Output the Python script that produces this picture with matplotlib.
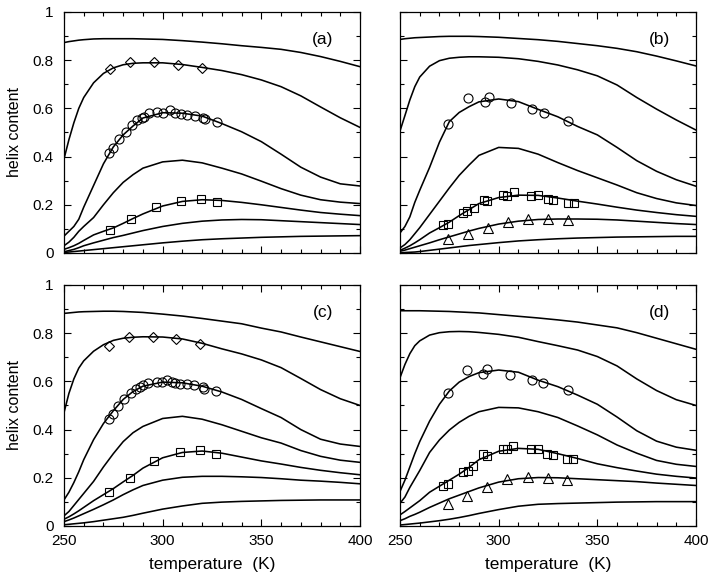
import matplotlib
matplotlib.use("Agg")
import matplotlib.pyplot as plt
from matplotlib.ticker import MultipleLocator, FixedLocator, FixedFormatter

plt.rcParams['font.family'] = ['Liberation Sans', 'DejaVu Sans']

# temperature grid (K) on which the curves were read
T = [250, 252.5, 255, 257.5, 260, 265, 270, 275, 280, 285, 290, 300, 310,
     320, 330, 340, 350, 360, 370, 380, 390, 400]

# ---- panel (a) curves ----
a1 = [.873, .877, .880, .883, .885, .888, .889, .889, .889, .889, .888, .886, .881, .875, .868, .860, .853, .845, .832, .815, .795, .773]
a2 = [.39, .47, .54, .60, .645, .706, .745, .768, .781, .787, .789, .789, .782, .770, .757, .740, .718, .690, .652, .606, .561, .521]
a3 = [.07, .09, .11, .14, .19, .28, .37, .44, .49, .527, .56, .582, .580, .568, .537, .503, .462, .41, .356, .315, .287, .278]
a4 = [.03, .045, .065, .09, .11, .147, .20, .25, .293, .325, .352, .378, .385, .374, .352, .328, .298, .267, .240, .221, .211, .205]
a5 = [.015, .022, .03, .04, .052, .075, .09, .104, .123, .143, .162, .195, .214, .221, .218, .210, .200, .189, .178, .168, .161, .155]
a6 = [.005, .01, .015, .022, .03, .042, .053, .064, .073, .083, .093, .110, .123, .132, .137, .139, .138, .134, .130, .126, .122, .118]
a7 = [.002, .004, .006, .008, .01, .014, .018, .022, .026, .030, .034, .042, .049, .055, .059, .062, .065, .067, .069, .070, .071, .072]

# ---- panel (b) curves ----
b1 = [.886, .889, .891, .893, .894, .896, .898, .899, .899, .899, .898, .895, .890, .885, .878, .869, .860, .849, .835, .817, .797, .776]
b2 = [.506, .57, .635, .69, .73, .775, .798, .808, .812, .814, .814, .812, .806, .795, .780, .760, .735, .697, .645, .597, .552, .51]
b3 = [.083, .11, .15, .21, .26, .355, .46, .545, .583, .607, .627, .639, .628, .596, .565, .525, .49, .438, .383, .339, .304, .277]
b4 = [.021, .035, .055, .08, .105, .16, .215, .27, .322, .365, .405, .438, .434, .41, .375, .342, .312, .282, .25, .226, .208, .197]
b5 = [.011, .02, .03, .042, .055, .083, .105, .128, .155, .18, .205, .23, .24, .239, .228, .215, .203, .19, .178, .168, .159, .152]
b6 = [.007, .012, .018, .024, .03, .042, .055, .067, .079, .091, .102, .12, .132, .139, .141, .141, .14, .137, .132, .127, .122, .118]
b7 = [.0, .002, .003, .004, .006, .011, .016, .021, .026, .031, .035, .043, .05, .055, .059, .062, .064, .066, .067, .068, .069, .069]

# ---- panel (c) curves ----
c1 = [.882, .884, .886, .888, .889, .890, .891, .891, .890, .888, .886, .879, .871, .861, .850, .839, .821, .805, .784, .764, .744, .724]
c2 = [.47, .55, .61, .655, .685, .725, .752, .77, .779, .783, .785, .784, .776, .758, .735, .714, .689, .657, .612, .566, .528, .50]
c3 = [.108, .14, .18, .225, .275, .358, .425, .478, .525, .558, .58, .597, .594, .58, .556, .525, .487, .45, .40, .36, .34, .33]
c4 = [.042, .06, .085, .11, .135, .185, .245, .30, .35, .387, .413, .446, .455, .443, .42, .393, .366, .344, .313, .289, .273, .264]
c5 = [.028, .038, .05, .063, .077, .105, .13, .155, .183, .21, .24, .283, .305, .311, .302, .286, .27, .257, .243, .231, .221, .2125]
c6 = [.018, .025, .033, .042, .051, .069, .088, .108, .13, .15, .168, .19, .202, .206, .206, .204, .201, .196, .19, .186, .181, .175]
c7 = [.005, .007, .009, .011, .013, .018, .024, .03, .036, .044, .053, .07, .083, .094, .099, .102, .104, .106, .107, .108, .108, .108]

# ---- panel (d) curves ----
d1 = [.893, .893, .893, .893, .893, .892, .891, .890, .888, .886, .884, .877, .870, .863, .855, .846, .834, .822, .802, .779, .756, .733]
d2 = [.615, .67, .715, .748, .768, .792, .802, .806, .807, .806, .803, .795, .783, .765, .748, .73, .703, .664, .61, .562, .524, .50]
d3 = [.143, .19, .245, .30, .35, .435, .505, .56, .597, .62, .636, .647, .638, .605, .578, .543, .505, .452, .395, .352, .327, .314]
d4 = [.094, .12, .16, .195, .23, .305, .357, .398, .43, .455, .474, .492, .49, .474, .45, .415, .378, .336, .302, .272, .256, .247]
d5 = [.046, .06, .075, .09, .105, .14, .165, .19, .215, .243, .275, .31, .322, .318, .30, .28, .258, .242, .228, .215, .206, .199]
d6 = [.022, .03, .04, .048, .057, .077, .095, .113, .128, .143, .158, .182, .196, .201, .2, .196, .192, .188, .184, .178, .173, .168]
d7 = [.004, .006, .008, .01, .012, .017, .022, .028, .035, .043, .052, .068, .082, .09, .093, .095, .097, .099, .1, .101, .101, .101]

# ---- experimental points ----
a_dia_T = [273.3, 283.4, 295.8, 307.6, 319.8]
a_dia_v = [.762, .792, .792, .781, .769]
a_cir_T = [273.0, 275.0, 278.0, 281.4, 284.3, 287.2, 289.4, 290.5, 293.2, 297.0, 300.3, 303.7, 306.3, 309.1, 312.5, 316.4, 320.6, 321.5, 327.4]
a_cir_v = [.416, .436, .471, .501, .533, .551, .561, .565, .582, .584, .582, .593, .579, .575, .571, .568, .561, .557, .543]
a_sq_T = [273.3, 284.0, 296.5, 309.3, 319.3, 327.4]
a_sq_v = [.097, .141, .191, .217, .222, .213]

b_cir_T = [274.5, 284.6, 293.1, 295.1, 306.3, 317.1, 323.0, 335.3]
b_cir_v = [.536, .641, .626, .648, .623, .596, .582, .547]
b_sq_T = [272.0, 274.5, 282.1, 284.1, 287.7, 292.6, 294.3, 302.4, 304.4, 307.9, 316.4, 320.1, 324.8, 327.7, 335.0, 338.3]
b_sq_v = [.118, .122, .166, .173, .187, .219, .217, .240, .238, .252, .238, .240, .224, .219, .208, .208]
b_tri_T = [274.5, 284.6, 294.7, 304.9, 315.0, 325.2, 335.3]
b_tri_v = [.060, .080, .104, .128, .139, .139, .136]

c_dia_T = [273.0, 282.9, 294.9, 306.8, 319.1]
c_dia_v = [.747, .785, .785, .775, .757]
c_cir_T = [273.0, 274.7, 277.5, 280.4, 283.8, 286.5, 288.5, 289.9, 292.7, 297.0, 299.5, 302.4, 304.6, 306.3, 308.8, 312.2, 316.0, 320.3, 321.1, 327.0]
c_cir_v = [.442, .463, .497, .528, .553, .569, .578, .583, .594, .597, .597, .606, .597, .592, .588, .588, .583, .578, .569, .560]
c_sq_T = [273.0, 283.4, 295.8, 308.8, 318.9, 326.9]
c_sq_v = [.143, .199, .271, .306, .314, .300]

d_cir_T = [274.5, 284.1, 292.2, 294.3, 305.7, 316.7, 322.6, 335.0]
d_cir_v = [.550, .646, .632, .650, .628, .604, .592, .564]
d_sq_T = [272.0, 274.2, 282.1, 284.3, 287.2, 292.2, 294.3, 302.4, 304.4, 307.4, 316.2, 319.8, 324.7, 327.7, 334.8, 337.8]
d_sq_v = [.167, .175, .226, .229, .250, .299, .292, .321, .319, .331, .319, .319, .299, .294, .278, .278]
d_tri_T = [274.5, 284.1, 294.3, 304.1, 314.7, 324.8, 334.8]
d_tri_v = [.092, .123, .160, .195, .205, .201, .190]

panel_labels = ['(a)', '(b)', '(c)', '(d)']
x_ticks = [250, 300, 350, 400]
y_ticks = [0, 0.2, 0.4, 0.6, 0.8, 1]
y_tick_labels = ['0', '0.2', '0.4', '0.6', '0.8', '1']
x_label = 'temperature  (K)'
y_label = 'helix content'

curves = {
    0: [a1, a2, a3, a4, a5, a6, a7],
    1: [b1, b2, b3, b4, b5, b6, b7],
    2: [c1, c2, c3, c4, c5, c6, c7],
    3: [d1, d2, d3, d4, d5, d6, d7],
}
points = {
    0: [(a_dia_T, a_dia_v, 'D', 5.0), (a_cir_T, a_cir_v, 'o', 6.5), (a_sq_T, a_sq_v, 's', 5.5)],
    1: [(b_cir_T, b_cir_v, 'o', 6.5), (b_sq_T, b_sq_v, 's', 5.5), (b_tri_T, b_tri_v, '^', 6.5)],
    2: [(c_dia_T, c_dia_v, 'D', 5.0), (c_cir_T, c_cir_v, 'o', 6.5), (c_sq_T, c_sq_v, 's', 5.5)],
    3: [(d_cir_T, d_cir_v, 'o', 6.5), (d_sq_T, d_sq_v, 's', 5.5), (d_tri_T, d_tri_v, '^', 6.5)],
}

fig = plt.figure(figsize=(7.14, 5.78), dpi=100)
W, H = 0.4146, 0.417
positions = [
    [0.0896, 0.5623, W, H],
    [0.5602, 0.5623, W, H],
    [0.0896, 0.0900, W, H],
    [0.5602, 0.0900, W, H],
]

for i, pos in enumerate(positions):
    ax = fig.add_axes(pos)
    for cv in curves[i]:
        ax.plot(T, cv, color='black', lw=1.15, solid_capstyle='round')
    for (tx, vy, mk, ms) in points[i]:
        ax.plot(tx, vy, linestyle='none', marker=mk, ms=ms, mfc='none',
                mec='black', mew=0.8, zorder=3)
    ax.set_xlim(250, 400)
    ax.set_ylim(0, 1)
    ax.xaxis.set_major_locator(FixedLocator(x_ticks))
    ax.xaxis.set_minor_locator(MultipleLocator(10))
    ax.yaxis.set_major_locator(FixedLocator(y_ticks))
    ax.yaxis.set_minor_locator(MultipleLocator(0.1))
    ax.tick_params(which='both', direction='in', top=True, right=True,
                   width=0.8, labelsize=11)
    ax.tick_params(which='major', length=5)
    ax.tick_params(which='minor', length=3)
    ax.tick_params(axis='x', pad=6)
    ax.tick_params(axis='y', pad=7.5)
    for sp in ax.spines.values():
        sp.set_linewidth(0.9)
    if i in (0, 2):
        ax.yaxis.set_major_formatter(FixedFormatter(y_tick_labels))
        ax.set_ylabel(y_label, fontsize=11.5)
        ax.yaxis.set_label_coords(-0.142, 0.5)
    else:
        ax.set_yticklabels([])
    if i in (2, 3):
        ax.set_xticklabels([str(t) for t in x_ticks])
        ax.set_xlabel(x_label, fontsize=12.5)
        ax.xaxis.set_label_coords(0.5, -0.13)
    else:
        ax.set_xticklabels([])
    ax.text(0.875, 0.885, panel_labels[i], transform=ax.transAxes,
            ha='center', va='center', fontsize=12.5)

fig.savefig('out.png', dpi=100)
